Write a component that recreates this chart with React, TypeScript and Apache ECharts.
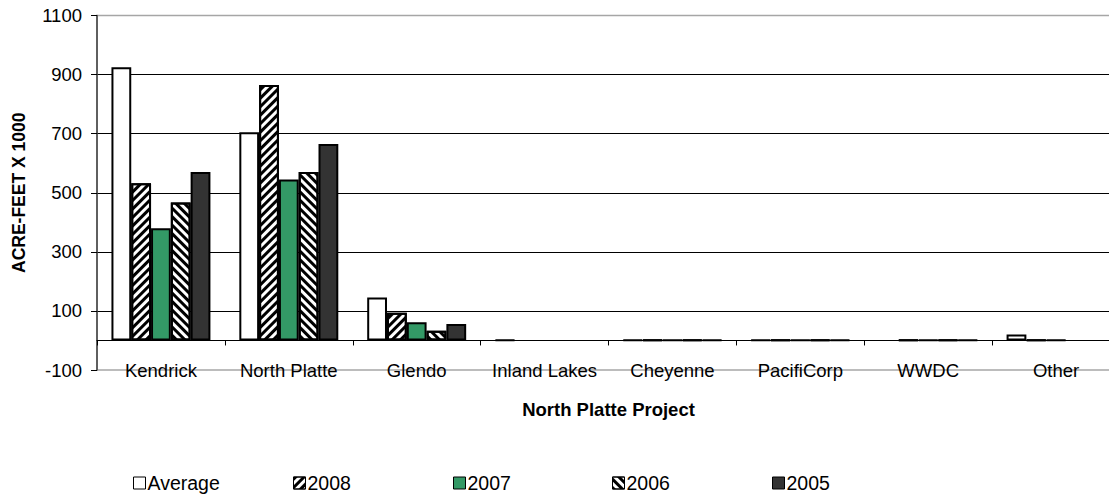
import React, { useEffect, useRef } from "react";
import * as echarts from "echarts";

const categories = ["Kendrick", "North Platte", "Glendo", "Inland Lakes", "Cheyenne", "PacifiCorp", "WWDC", "Other"];
const seriesNames = ["Average", "2008", "2007", "2006", "2005"];
const average = [925, 705, 145, 2, 2, 2, null, 20];
const y2008 = [532, 865, 94, null, 2, 2, 2, 2];
const y2007 = [380, 545, 62, null, 2, 2, 2, 2];
const y2006 = [467, 570, 33, null, 2, 2, 2, null];
const y2005 = [570, 665, 56, null, 2, 2, 2, null];

const FONT = '"Liberation Sans", Arial, sans-serif';

export default function App() {
  const ref = useRef<HTMLDivElement>(null);
  useEffect(() => {
    if (!ref.current) return;
    const chart = echarts.init(ref.current, null, { renderer: "svg" });
    const stripe = (rot: number) => ({
      symbol: "rect",
      symbolSize: 1,
      dashArrayX: [1, 0],
      dashArrayY: [3, 3],
      rotation: rot,
      color: "#000",
      backgroundColor: "#fff",
    });
    const baseItem = { borderColor: "#000", borderWidth: 2 };
    const styles: any[] = [
      { ...baseItem, color: "#fff" },
      { ...baseItem, color: "#fff", decal: stripe(-Math.PI / 4) },
      { ...baseItem, color: "#339966" },
      { ...baseItem, color: "#fff", decal: stripe(Math.PI / 4) },
      { ...baseItem, color: "#333333" },
    ];
    const values = [average, y2008, y2007, y2006, y2005];
    const legendLefts = [133, 293, 453, 612, 772];
    const option: any = {
      animation: false,
      textStyle: { fontFamily: FONT },
      grid: {
        left: 97,
        right: -11,
        top: 15.5,
        bottom: 125,
        show: true,
        borderColor: "#a6a6a6",
        borderWidth: 1.5,
        containLabel: false,
        outerBoundsMode: "none",
      },
      xAxis: {
        type: "category",
        data: categories,
        axisLine: { onZero: true, lineStyle: { color: "#000", width: 1 } },
        axisTick: { show: true, length: 5, lineStyle: { color: "#000" } },
        axisLabel: { interval: 0, margin: -9, fontSize: 18.5, color: "#000", fontFamily: FONT },
        splitLine: { show: false },
        name: "North Platte Project",
        nameLocation: "middle",
        nameGap: 30,
        nameTextStyle: { fontWeight: "bold", fontSize: 18.5, color: "#000", fontFamily: FONT },
      },
      yAxis: {
        type: "value",
        min: -100,
        max: 1100,
        interval: 200,
        axisLine: { show: true, lineStyle: { color: "#404040", width: 1.5 } },
        axisTick: { show: true, length: 6, lineStyle: { color: "#000" } },
        axisLabel: { margin: 15, fontSize: 18.5, color: "#000", fontFamily: FONT, formatter: (v: number) => String(v) },
        splitLine: { show: true, showMinLine: false, showMaxLine: false, lineStyle: { color: "#000", width: 1 } },
        name: "ACRE-FEET X 1000",
        nameLocation: "middle",
        nameGap: 69,
        nameTextStyle: { fontWeight: "bold", fontSize: 17.5, color: "#000", fontFamily: FONT },
      },
      legend: seriesNames.map((n, i) => ({
        data: [n],
        left: legendLefts[i],
        top: 473,
        padding: 0,
        itemWidth: 12,
        itemHeight: 12,
        icon: "rect",
        selectedMode: false,
        textStyle: { fontSize: 19.5, color: "#000", fontFamily: FONT, padding: [0, 0, 0, -3] },
        itemStyle: { borderColor: "#000", borderWidth: 1 },
      })),
      series: seriesNames.map((n, i) => ({
        type: "bar",
        name: n,
        data: values[i],
        barGap: "0%",
        barCategoryGap: "22.6%",
        itemStyle: styles[i],
      })),
    };
    chart.setOption(option);
    return () => chart.dispose();
  }, []);
  return (
    <div
      ref={ref}
      style={{ position: "fixed", left: 0, top: 0, width: 1109, height: 495, overflow: "hidden", background: "#fff" }}
    />
  );
}
